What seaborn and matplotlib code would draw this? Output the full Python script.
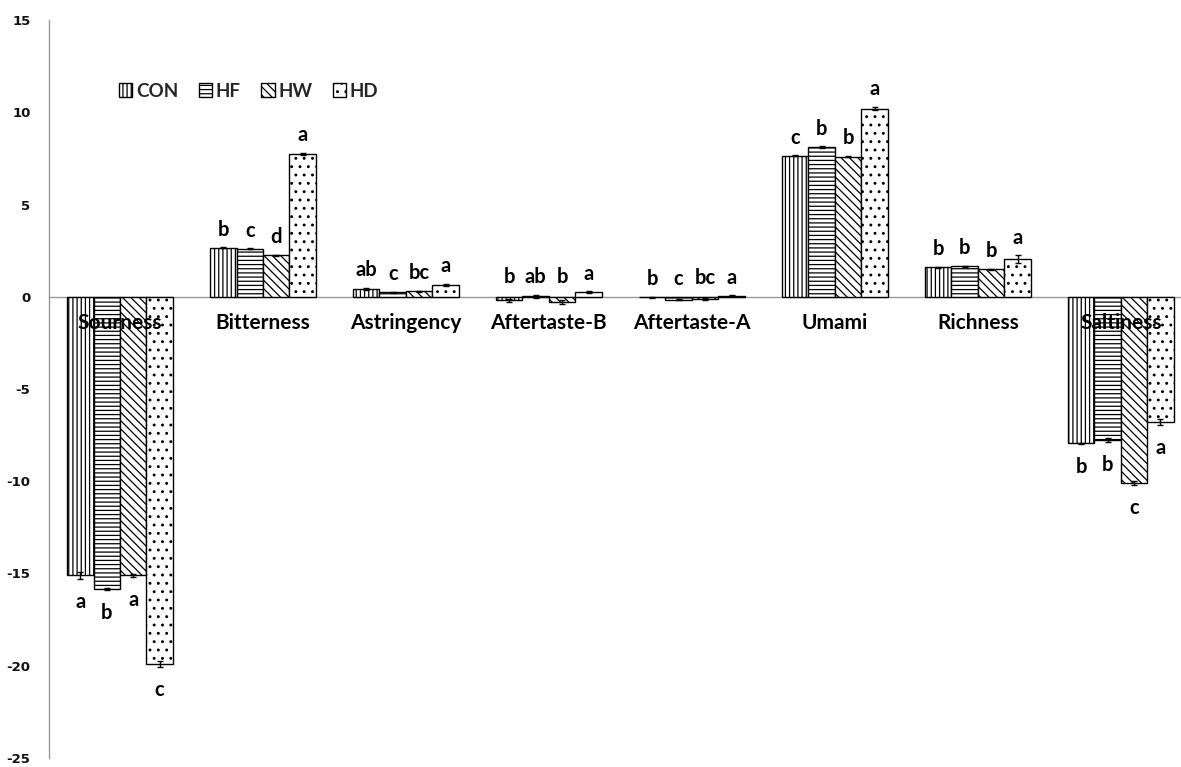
import numpy as np
import pandas as pd
import matplotlib
matplotlib.use("Agg")
import matplotlib.pyplot as plt
import seaborn as sns
from matplotlib.container import BarContainer

categories = ['Sourness', 'Bitterness', 'Astringency', 'Aftertaste-B',
              'Aftertaste-A', 'Umami', 'Richness', 'Saltiness']
groups = ['CON', 'HF', 'HW', 'HD']

con = [-15.1, 2.65, 0.43, -0.2, -0.03, 7.65, 1.6, -7.95]
hf = [-15.85, 2.6, 0.25, 0.02, -0.15, 8.1, 1.65, -7.75]
hw = [-15.1, 2.25, 0.3, -0.3, -0.12, 7.6, 1.48, -10.1]
hd = [-19.9, 7.75, 0.65, 0.25, 0.05, 10.2, 2.05, -6.8]

err_con = [0.2, 0.03, 0.05, 0.1, 0.02, 0.03, 0.03, 0.05]
err_hf = [0.05, 0.03, 0.03, 0.08, 0.03, 0.05, 0.03, 0.1]
err_hw = [0.1, 0.03, 0.03, 0.1, 0.05, 0.03, 0.05, 0.1]
err_hd = [0.15, 0.05, 0.05, 0.05, 0.02, 0.1, 0.2, 0.15]

let_con = ['a', 'b', 'ab', 'b', 'b', 'c', 'b', 'b']
let_hf = ['b', 'c', 'c', 'ab', 'c', 'b', 'b', 'b']
let_hw = ['a', 'd', 'bc', 'b', 'bc', 'b', 'b', 'c']
let_hd = ['c', 'a', 'a', 'a', 'a', 'a', 'a', 'a']

values = [con, hf, hw, hd]
errors = [err_con, err_hf, err_hw, err_hd]
letters = [let_con, let_hf, let_hw, let_hd]
hatches = ['||||', '----', '\\\\\\\\', '..']

sns.set_style("white")
plt.rcParams['axes.unicode_minus'] = False
plt.rcParams['hatch.linewidth'] = 0.9

df = pd.DataFrame({
    'category': categories * 4,
    'group': np.repeat(groups, len(categories)),
    'value': con + hf + hw + hd,
})

fig = plt.figure(figsize=(11.81, 7.67), dpi=100)
ax = fig.add_axes([48.5 / 1181, 9 / 767, 1143.8 / 1181, 738 / 767])

sns.barplot(data=df, x='category', y='value', hue='group', order=categories,
            hue_order=groups, palette=['white'] * 4, saturation=1, width=0.74,
            edgecolor='black', linewidth=1, errorbar=None, legend=False, ax=ax)

bar_conts = [c for c in ax.containers if isinstance(c, BarContainer)]
for cont, h, vals, errs, lets in zip(bar_conts, hatches, values, errors, letters):
    xs = []
    for p in cont.patches:
        p.set_hatch(h)
        p.set_edgecolor('black')
        p.set_zorder(1)
        xs.append(p.get_x() + p.get_width() / 2)
    ax.errorbar(xs, vals, yerr=errs, fmt='none', ecolor='black',
                elinewidth=1, capsize=2.5, capthick=1, zorder=2)
    for x, v, e, t in zip(xs, vals, errs, lets):
        if v < -1:
            y = v - e - 1.25
        else:
            y = max(v, 0) + e + 0.95
        ax.text(x, y, t, ha='center', va='center', fontsize=14.5,
                fontweight='bold', family='Lato', color='black')

ax.set_xlim(-0.5, 7.5)
ax.set_ylim(-25, 15)
ax.set_xlabel('')
ax.set_ylabel('')

ax.set_yticks(np.arange(-25, 16, 5))
ax.set_yticklabels([str(v) for v in range(-25, 16, 5)])
ax.set_xticks(range(len(categories)))
ax.set_xticklabels(categories)
ax.set_xticks(np.arange(-0.5, len(categories), 1), minor=True)

ax.set_axisbelow(False)
ax.xaxis.set_zorder(5)

for s in ['top', 'right']:
    ax.spines[s].set_visible(False)
ax.spines['bottom'].set_position(('data', 0))
ax.spines['bottom'].set_color('#999999')
ax.spines['left'].set_color('#999999')
ax.spines['bottom'].set_linewidth(1)
ax.spines['left'].set_linewidth(1)
ax.spines['bottom'].set_zorder(0.5)

# label styling after the spine move (set_position resets the ticks)
ax.tick_params(axis='x', which='major', length=0, pad=12, labelsize=15,
               labelcolor='black')
ax.tick_params(axis='x', which='minor', length=5, width=1, color='#999999',
               direction='out')
ax.tick_params(axis='y', length=5, width=1, color='#999999', direction='out',
               pad=8, labelcolor='#111111', labelsize=9.5)
for lab in ax.get_xticklabels():
    lab.set_fontfamily('Lato')
    lab.set_fontweight('bold')
    lab.set_fontsize(15)
for lab in ax.get_yticklabels():
    lab.set_fontfamily('DejaVu Sans')
    lab.set_fontweight('bold')
    lab.set_fontsize(9.5)

ax.legend(bar_conts, groups, loc='upper left', bbox_to_anchor=(0.047, 0.938),
          ncol=4, frameon=False,
          prop=dict(family='Lato', weight='bold', size=13.5),
          handlelength=0.7, handleheight=0.8, handletextpad=0.2,
          columnspacing=1.1)

fig.savefig('out.png', dpi=100)
